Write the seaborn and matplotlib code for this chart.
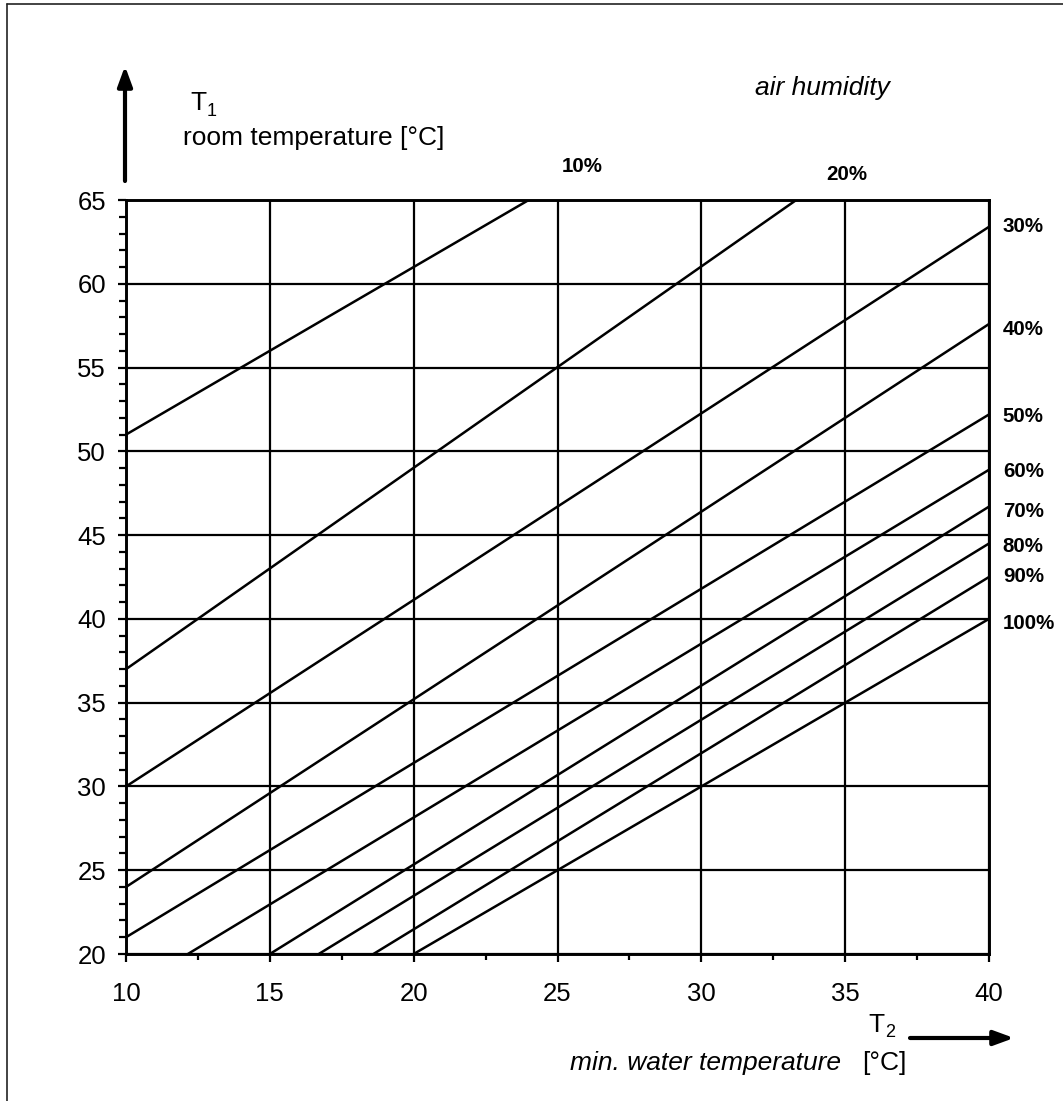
import numpy as np
import pandas as pd
import matplotlib
matplotlib.use("Agg")
import matplotlib.pyplot as plt
from matplotlib.ticker import MultipleLocator
from matplotlib.lines import Line2D
import seaborn as sns

# humidity curves: start and end points (T2 water temp, T1 room temp)
humidity = ["10%", "20%", "30%", "40%", "50%", "60%", "70%", "80%", "90%", "100%"]
t2_start = [10, 10, 10, 10, 10, 12.15, 15, 16.7, 18.6, 20]
t1_start = [51, 37, 30, 24, 21, 20, 20, 20, 20, 20]
t2_end = [24, 33.3, 40, 40, 40, 40, 40, 40, 40, 40]
t1_end = [65, 65, 63.4, 57.6, 52.2, 48.9, 46.7, 44.5, 42.5, 40]

x_ticks = [10, 15, 20, 25, 30, 35, 40]
y_ticks = [20, 25, 30, 35, 40, 45, 50, 55, 60, 65]

rows = []
for h, xs, ys, xe, ye in zip(humidity, t2_start, t1_start, t2_end, t1_end):
    rows.append({"humidity": h, "T2": xs, "T1": ys})
    rows.append({"humidity": h, "T2": xe, "T1": ye})
df = pd.DataFrame(rows)

sns.set_style("ticks")
plt.rcParams["font.family"] = ["Liberation Sans", "DejaVu Sans"]
plt.rcParams["text.color"] = "black"
plt.rcParams["xtick.color"] = "black"
plt.rcParams["ytick.color"] = "black"
plt.rcParams["axes.edgecolor"] = "black"

W, H = 1063, 1101
fig = plt.figure(figsize=(W / 100, H / 100), dpi=100)
ax = fig.add_axes([126 / W, 1 - 954 / H, (989 - 126) / W, (954 - 200) / H])

sns.lineplot(data=df, x="T2", y="T1", units="humidity", estimator=None,
             color="black", linewidth=1.8, ax=ax, legend=False)

ax.set_xlim(10, 40)
ax.set_ylim(20, 65)
ax.set_xticks(x_ticks)
ax.set_yticks(y_ticks)
ax.xaxis.set_minor_locator(MultipleLocator(2.5))
ax.yaxis.set_minor_locator(MultipleLocator(1))
ax.grid(True, which="major", color="black", linewidth=1.6)
ax.set_axisbelow(True)
ax.set_xlabel("")
ax.set_ylabel("")
for s in ax.spines.values():
    s.set_visible(True)
    s.set_linewidth(2.1)
    s.set_color("black")
ax.tick_params(axis="both", which="both", direction="out", color="black",
               labelcolor="black", width=1.6, top=False, right=False,
               labelsize=18.5)
ax.tick_params(axis="x", which="major", length=5.5, pad=15)
ax.tick_params(axis="x", which="minor", length=4.5)
ax.tick_params(axis="y", which="major", length=5.8, pad=8.5)
ax.tick_params(axis="y", which="minor", length=4.7)

# humidity labels
ax.text(25.85, 67.0, "10%", ha="center", va="center", fontsize=14.8,
        fontweight="bold", clip_on=False)
ax.text(35.06, 66.55, "20%", ha="center", va="center", fontsize=14.8,
        fontweight="bold", clip_on=False)
right_y = [63.4, 57.3, 52.1, 48.8, 46.4, 44.3, 42.5, 39.75]
for h, yy in zip(humidity[2:], right_y):
    ax.text(40.48, yy, h, ha="left", va="center", fontsize=14.8,
            fontweight="bold", clip_on=False)


def fx(px):
    return px / W


def fy(py):
    return 1 - py / H


fig.text(fx(755), fy(95), "air humidity", fontsize=19, style="italic",
         va="baseline", ha="left")
fig.text(fx(190), fy(110), "T", fontsize=19, va="baseline", ha="left")
fig.text(fx(207), fy(116), "1", fontsize=13, va="baseline", ha="left")
fig.text(fx(183), fy(145), "room temperature [°C]", fontsize=19,
         va="baseline", ha="left")
fig.text(fx(868), fy(1032), "T", fontsize=19, va="baseline", ha="left")
fig.text(fx(885), fy(1037), "2", fontsize=13, va="baseline", ha="left")
fig.text(fx(570), fy(1070), "min. water temperature", fontsize=19,
         style="italic", va="baseline", ha="left")
fig.text(fx(862), fy(1070), "[°C]", fontsize=19, va="baseline", ha="left")

arrow = dict(arrowstyle="-|>,head_length=0.6,head_width=0.22", lw=3,
             color="black", mutation_scale=20, shrinkA=0, shrinkB=0)
ax.annotate("", xy=(fx(125), fy(66)), xytext=(fx(125), fy(181)),
            xycoords="figure fraction", textcoords="figure fraction",
            arrowprops=arrow)
ax.annotate("", xy=(fx(1014), fy(1038)), xytext=(fx(910), fy(1038)),
            xycoords="figure fraction", textcoords="figure fraction",
            arrowprops=arrow)

# outer frame (left and top edges)
fig.add_artist(Line2D([fx(7), fx(7)], [fy(4), 0], transform=fig.transFigure,
                      color="#222222", lw=1.2))
fig.add_artist(Line2D([fx(7), 1], [fy(4), fy(4)], transform=fig.transFigure,
                      color="#222222", lw=1.2))

fig.savefig("out.png", dpi=100)
